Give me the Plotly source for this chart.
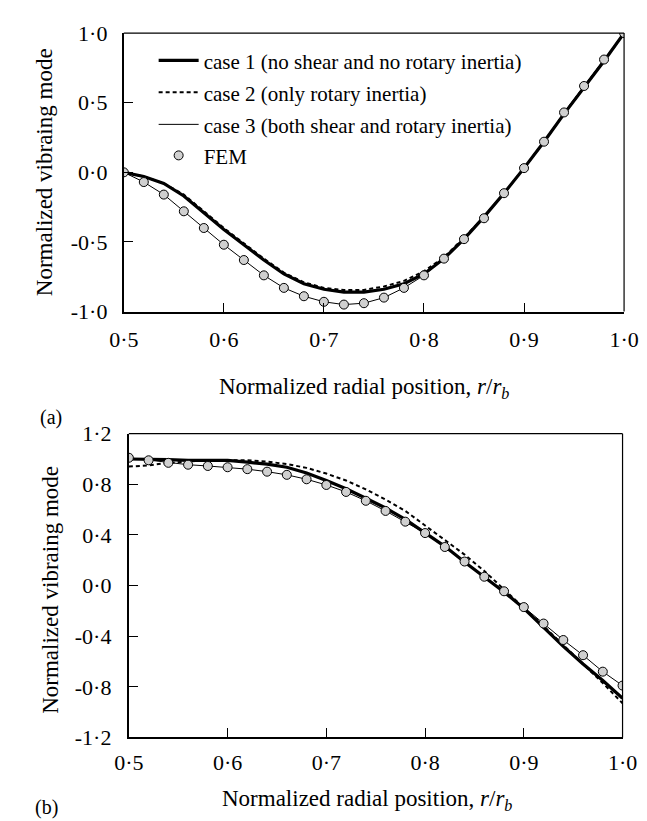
import plotly.graph_objects as go

# ---------------- data ----------------
r = [0.50, 0.52, 0.54, 0.56, 0.58, 0.60, 0.62, 0.64, 0.66, 0.68, 0.70, 0.72, 0.74,
     0.76, 0.78, 0.80, 0.82, 0.84, 0.86, 0.88, 0.90, 0.92, 0.94, 0.96, 0.98, 1.00]

# panel (a)
case1_a = [0.00, -0.03, -0.08, -0.17, -0.29, -0.41, -0.52, -0.63, -0.73, -0.80, -0.84, -0.86, -0.86,
           -0.84, -0.80, -0.73, -0.62, -0.48, -0.32, -0.15, 0.03, 0.22, 0.42, 0.61, 0.80, 1.00]
case2_a = [0.00, -0.03, -0.08, -0.16, -0.28, -0.40, -0.51, -0.62, -0.72, -0.79, -0.83, -0.845, -0.845,
           -0.82, -0.78, -0.71, -0.61, -0.47, -0.32, -0.15, 0.03, 0.22, 0.42, 0.61, 0.80, 1.00]
case3_a = [0.00, -0.07, -0.16, -0.28, -0.40, -0.52, -0.63, -0.74, -0.83, -0.89, -0.93, -0.95, -0.94,
           -0.90, -0.83, -0.74, -0.62, -0.48, -0.33, -0.15, 0.03, 0.22, 0.43, 0.62, 0.81, 1.00]
fem_a = [0.00, -0.07, -0.16, -0.28, -0.40, -0.52, -0.63, -0.74, -0.83, -0.89, -0.93, -0.95, -0.94,
         -0.90, -0.83, -0.74, -0.62, -0.48, -0.33, -0.15, 0.03, 0.22, 0.43, 0.62, 0.81, 1.00]

# panel (b)
case1_b = [1.00, 1.00, 0.995, 0.99, 0.99, 0.99, 0.975, 0.96, 0.935, 0.89, 0.83, 0.765, 0.69,
           0.613, 0.523, 0.42, 0.31, 0.186, 0.07, -0.05, -0.18, -0.33, -0.48, -0.62, -0.75, -0.89]
case2_b = [0.94, 0.95, 0.97, 0.98, 0.99, 0.99, 0.99, 0.98, 0.96, 0.93, 0.885, 0.83, 0.76,
           0.68, 0.59, 0.475, 0.36, 0.245, 0.115, -0.03, -0.17, -0.32, -0.47, -0.62, -0.77, -0.93]
case3_b = [1.01, 0.99, 0.97, 0.955, 0.945, 0.935, 0.92, 0.90, 0.875, 0.84, 0.795, 0.74, 0.67,
           0.59, 0.505, 0.415, 0.305, 0.19, 0.07, -0.045, -0.17, -0.30, -0.43, -0.55, -0.68, -0.79]
fem_b = [1.01, 0.99, 0.97, 0.955, 0.945, 0.935, 0.92, 0.90, 0.875, 0.84, 0.795, 0.74, 0.67,
         0.59, 0.505, 0.415, 0.305, 0.19, 0.07, -0.045, -0.17, -0.30, -0.43, -0.55, -0.68, -0.79]

x_ticks = [0.5, 0.6, 0.7, 0.8, 0.9, 1.0]
x_ticktext = ["0·5", "0·6", "0·7", "0·8", "0·9", "1·0"]
ya_ticks = [-1.0, -0.5, 0.0, 0.5, 1.0]
ya_ticktext = ["-1·0", "-0·5", "0·0", "0·5", "1·0"]
yb_ticks = [-1.2, -0.8, -0.4, 0.0, 0.4, 0.8, 1.2]
yb_ticktext = ["-1·2", "-0·8", "-0·4", "0·0", "0·4", "0·8", "1·2"]

names = ["case 1 (no shear and no rotary inertia)",
         "case 2 (only rotary inertia)",
         "case 3 (both shear and rotary inertia)",
         "FEM"]

FONT = "Liberation Serif"
W, H = 647, 821

fig = go.Figure()

def add_panel(xa, ya, c1, c2, c3, fem, show):
    kw = dict(xaxis=xa, yaxis=ya)
    fig.add_trace(go.Scatter(x=r, y=c3, mode="lines", line=dict(color="black", width=1),
                             name=names[2], showlegend=show, legend="legend3", **kw))
    fig.add_trace(go.Scatter(x=r, y=c2, mode="lines", line=dict(color="black", width=2, dash="4px,3px"),
                             name=names[1], showlegend=show, legend="legend2", **kw))
    fig.add_trace(go.Scatter(x=r, y=c1, mode="lines", line=dict(color="black", width=3.2),
                             name=names[0], showlegend=show, legend="legend", **kw))
    fig.add_trace(go.Scatter(x=r, y=fem, mode="markers",
                             marker=dict(symbol="circle", size=9, color="#d0d0d0",
                                         line=dict(color="black", width=1)),
                             name=names[3], showlegend=show, legend="legend4", **kw))

add_panel("x", "y", case1_a, case2_a, case3_a, fem_a, True)
add_panel("x2", "y2", case1_b, case2_b, case3_b, fem_b, False)

# panel geometry (pixels)
ax_px = (105.7, 630.3, 13.5, 300.7)
bx_px = (111.0, 628.7, 426.7, 740.0)

def dom(p):
    return [p[0] / W, p[1] / W], [1 - p[3] / H, 1 - p[2] / H]

axd_a = dom(ax_px)
axd_b = dom(bx_px)

tickfont = dict(family=FONT, size=22, color="black")
common_x = dict(range=[0.5, 1.0], tickvals=x_ticks, ticktext=x_ticktext, ticks="inside",
                ticklen=9, tickwidth=1, tickcolor="black", showline=True, linecolor="black",
                linewidth=2, showgrid=False, zeroline=False, tickfont=tickfont)
common_y = dict(ticks="inside", ticklen=9, tickwidth=1, tickcolor="black", showline=True,
                linecolor="black", linewidth=2, showgrid=False, zeroline=False, tickfont=tickfont)

fig.update_layout(
    width=W, height=H, margin=dict(l=0, r=0, t=0, b=0),
    paper_bgcolor="white", plot_bgcolor="white",
    font=dict(family=FONT, size=22, color="black"),
    xaxis=dict(domain=axd_a[0], anchor="y", ticklabelstandoff=7, **common_x),
    yaxis=dict(domain=axd_a[1], anchor="x", range=[-1.0, 1.0], tickvals=ya_ticks,
               ticktext=ya_ticktext, ticklabelstandoff=10, **common_y),
    xaxis2=dict(domain=axd_b[0], anchor="y2", ticklabelstandoff=4, **common_x),
    yaxis2=dict(domain=axd_b[1], anchor="x2", range=[-1.2, 1.2], tickvals=yb_ticks,
                ticktext=yb_ticktext, ticklabelstandoff=11, **common_y),
    showlegend=True,
)

# separate legends for exact row placement
leg_rows_px = [42, 75, 108, 140]
leg_x_px = 137
for i, key in enumerate(["legend", "legend2", "legend3", "legend4"]):
    fig.update_layout({key: dict(x=leg_x_px / W, y=1 - leg_rows_px[i] / H, xanchor="left",
                                 yanchor="middle", bgcolor="rgba(0,0,0,0)", borderwidth=0,
                                 font=dict(family=FONT, size=21, color="black"),
                                 itemwidth=40)})

# top & right frame lines (thin)
for xr, yr in (("x domain", "y domain"), ("x2 domain", "y2 domain")):
    fig.add_shape(type="line", xref=xr, yref=yr, x0=0, x1=1, y0=1, y1=1,
                  line=dict(color="black", width=1.2))
    fig.add_shape(type="line", xref=xr, yref=yr, x0=1, x1=1, y0=0, y1=1,
                  line=dict(color="black", width=1.2))

def ann(text, xp, yp, size=22, angle=0):
    fig.add_annotation(text=text, x=xp / W, y=1 - yp / H, xref="paper", yref="paper",
                       showarrow=False, xanchor="center", yanchor="middle", textangle=angle,
                       font=dict(family=FONT, size=size, color="black"))

xtitle = "Normalized radial position, <i>r</i>/<i>r<sub>b</sub></i>"
ytitle = "Normalized vibraing mode"
ann(xtitle, 358, 380, size=23)
ann(xtitle, 361, 805, size=23)
ann(ytitle, 22, 157, size=23, angle=-90)
ann(ytitle, 28, 588, size=23, angle=-90)
ann("(a)", 29, 410, size=20)
ann("(b)", 25, 812, size=20)

fig.write_html("out.html")
